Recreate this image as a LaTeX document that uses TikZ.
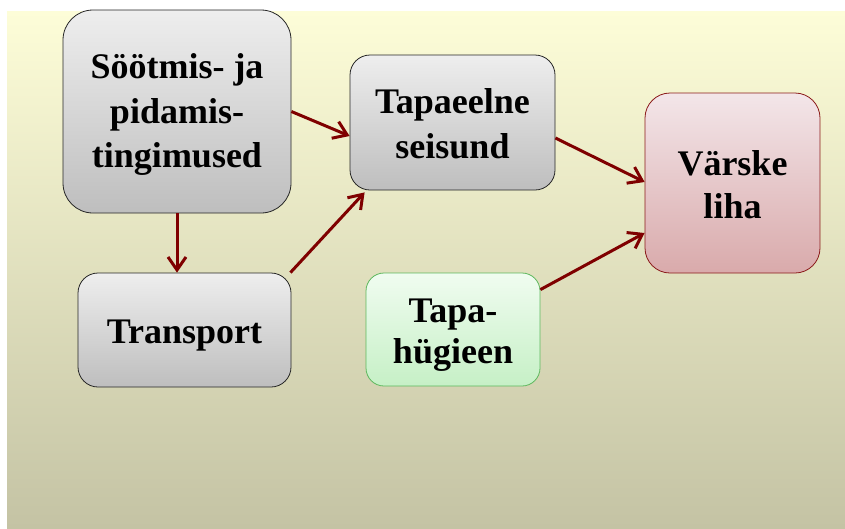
\documentclass[tikz,border=0pt]{standalone}
\usepackage{fontspec}
\setmainfont{Liberation Serif}
\usetikzlibrary{arrows.meta,calc}
\definecolor{bgtop}{HTML}{FDFDD8}
\definecolor{bgbot}{HTML}{C4C3A4}
\definecolor{graytop}{HTML}{EEEEEE}
\definecolor{graybot}{HTML}{BEBEBE}
\definecolor{pinktop}{HTML}{F3E6E9}
\definecolor{pinkbot}{HTML}{D9AAAB}
\definecolor{pinkline}{HTML}{8B1A1A}
\definecolor{greentop}{HTML}{F0FCF0}
\definecolor{greenbot}{HTML}{C6F0C6}
\definecolor{greenline}{HTML}{5DB85D}
\definecolor{arrowred}{HTML}{7F0000}
% text block lowered by #1, line spacing #2, keeping its natural extents
\newcommand\boxtext[3]{{\fontsize{36}{#2}\selectfont\raisebox{-#1}[\height][\depth]{\begin{tabular}{@{}c@{}}#3\end{tabular}}}}
\begin{document}
\begin{tikzpicture}[x=1pt,y=-1pt,
  box/.style={line width=0.8pt, inner sep=0pt,
    font=\fontsize{36}{43}\selectfont\bfseries},
  graybox/.style={box, draw=black!85, top color=graytop, bottom color=graybot},
  pinkbox/.style={box, draw=pinkline, top color=pinktop, bottom color=pinkbot},
  greenbox/.style={box, draw=greenline, top color=greentop, bottom color=greenbot},
  conn/.style={draw=arrowred, line width=3pt,
    -{Straight Barb[length=13pt,width=18pt,line width=3pt]}}]
\useasboundingbox (0,0) rectangle (845,528);
\shade[top color=bgtop, bottom color=bgbot] (7,11) rectangle (845,528);
\node[graybox, rounded corners=30pt, minimum width=228, minimum height=203] (A) at (177,111.5) {\boxtext{3pt}{44.5pt}{Söötmis- ja\\pidamis-\\tingimused}};
\node[graybox, rounded corners=20pt, minimum width=213, minimum height=114] (B) at (184.5,330) {\boxtext{4.4pt}{43pt}{Transport}};
\node[graybox, rounded corners=20pt, minimum width=205, minimum height=135] (C) at (452.5,122.5) {\boxtext{4pt}{45pt}{Tapaeelne\\seisund}};
\node[greenbox, rounded corners=18pt, minimum width=174, minimum height=113] (D) at (453,329.5) {\boxtext{4.8pt}{41pt}{Tapa-\\hügieen}};
\node[pinkbox, rounded corners=25pt, minimum width=175, minimum height=180] (E) at (732.5,183) {\boxtext{4.9pt}{43pt}{Värske\\liha}};
\draw[conn] (A.east) -- ($(C.west)+(0,13.5)$);
\draw[conn] (A.south) -- (A.south |- B.north);
\draw[conn] ($(B.north east)+(-1,0)$) -- ($(C.south west)+(15,2)$);
\draw[conn] ($(C.east)+(0,15.5)$) -- ($(E.west)+(0,-1)$);
\draw[conn] ($(D.north east)+(0,17)$) -- ($(E.west)+(0,50)$);
\end{tikzpicture}
\end{document}
